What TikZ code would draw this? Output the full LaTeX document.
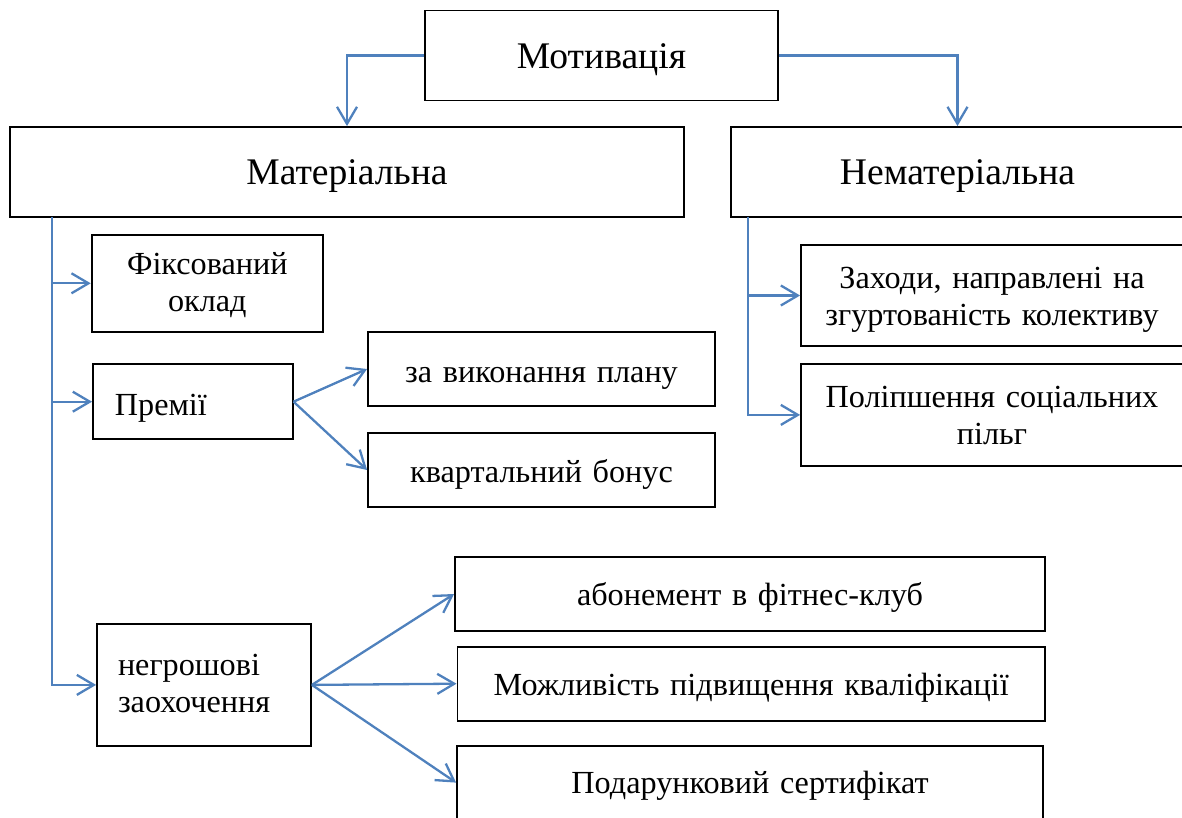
\documentclass[tikz,border=0pt]{standalone}
\usepackage{fontspec}
\setmainfont{Liberation Serif}
\usetikzlibrary{arrows.meta}
\definecolor{lnblue}{HTML}{4F81BD}
\begin{document}
\begin{tikzpicture}[x=1pt,y=-1pt,
  box/.style={draw=black, line width=1.8pt, rectangle, inner sep=0pt, align=center,
              font=\fontsize{32.2}{37}\selectfont},
  big/.style={font=\fontsize{37.6}{43}\selectfont},
  conn/.style={draw=lnblue, line width=2.3pt},
  arr/.style={conn, -{Straight Barb[length=17pt,width=20pt]}},
]
\useasboundingbox (0,0) rectangle (1182,818);

\node[box,big,minimum width=353pt,minimum height=90pt,text width=353pt,text height=31pt,text depth=5pt] (mot) at (601.5,55.5) {Мотивація};
\node[box,big,minimum width=674pt,minimum height=90pt,text width=674pt,text height=31pt,text depth=5pt] (mat) at (347,172) {Матеріальна};
\node[box,big,minimum width=453pt,minimum height=90pt,text width=453pt,text height=31pt,text depth=5pt] (nemat) at (957.5,172) {Нематеріальна};

\node[box,minimum width=231.3pt,minimum height=96.7pt,text width=231.3pt,text height=5pt,text depth=22pt] (fix) at (207.3,283.3) {Фіксований\\оклад};
\node[box,align=left,text width=155.7pt,inner xsep=22pt,minimum height=74.7pt,text height=31.6pt,text depth=5pt] (prem) at (192.8,401.7) {Премії};
\node[box,minimum width=347pt,minimum height=74pt,text width=347pt,text height=32.4pt,text depth=5pt] (plan) at (541.5,369) {за виконання плану};
\node[box,minimum width=347pt,minimum height=73.7pt,text width=347pt,text height=29.6pt,text depth=5pt] (bonus) at (541.5,470) {квартальний бонус};
\node[box,align=left,text width=172pt,inner xsep=21pt,minimum height=121.7pt,text height=5pt,text depth=23pt] (negr) at (204,684.9) {негрошові\\заохочення};
\node[box,minimum width=590pt,minimum height=73.7pt,text width=590pt,text height=27pt,text depth=5pt] (abon) at (750,594) {абонемент в фітнес-клуб};
\node[box,minimum width=587.5pt,minimum height=74pt,text width=587.5pt,text height=29pt,text depth=5pt] (mozh) at (751.2,683.7) {Можливість підвищення кваліфікації};
\node[box,minimum width=586pt,minimum height=74pt,text width=586pt,text height=26.4pt,text depth=5pt] (pod) at (750,782.6) {Подарунковий сертифікат};
\node[box,minimum width=382pt,minimum height=101pt,text width=382pt,text height=5pt,text depth=20pt] (zah) at (992,295.5) {Заходи, направлені на\\згуртованість колективу};
\node[box,minimum width=382pt,minimum height=101.7pt,text width=382pt,text height=5pt,text depth=20pt] (pol) at (992,414.9) {Поліпшення соціальних\\пільг};

\coordinate (lt) at (51.7,217);
\coordinate (rt) at (747.7,217);

\draw[arr] (mot.west) -| (mat.north);
\draw[arr] (mot.east) -| (nemat.north);

\draw[arr] (lt) |- (negr.west);
\draw[arr] (lt |- fix.west) -- (fix.west);
\draw[arr] (lt |- prem.west) -- (prem.west);

\draw[arr] (rt) |- (pol.west);
\draw[arr] (rt |- zah.west) -- (zah.west);

\draw[arr] (prem.east) -- (plan.west);
\draw[arr] (prem.east) -- (bonus.west);

\draw[arr] (negr.east) -- (abon.west);
\draw[arr] (negr.east) -- (mozh.west);
\draw[arr] (negr.east) -- (pod.west);
\end{tikzpicture}
\end{document}
